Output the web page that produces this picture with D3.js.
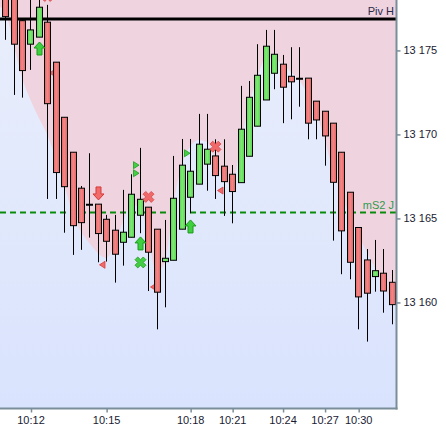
<!DOCTYPE html>
<html><head><meta charset="utf-8">
<script src="https://cdn.jsdelivr.net/npm/d3@7"></script>
<style>body{margin:0;background:#fff;} svg{display:block;font-family:"Liberation Sans",Arial,sans-serif;}</style>
</head><body><svg id="c" width="446" height="428"></svg>
<script>
// ---- data (candle index based, 20-second bars) ----
const opens  = [13178.6,13178.4,13176.77,13175.37,13175.79,13176.68,13174.30,13171.02,13168.94,13166.80,13165.82,13165.85,13164.95,13164.30,13163.58,13163.88,13165.19,13165.67,13164.36,13162.43,13162.51,13164.36,13166.26,13167.04,13168.23,13168.72,13168.11,13167.63,13167.13,13168.70,13170.49,13172.05,13173.64,13174.18,13173.46,13173.32,13173.35,13171.98,13171.38,13170.67,13168.94,13166.56,13164.46,13162.53,13161.54,13161.74,13161.20];
const highs  = [13179.0,13178.8,13176.90,13178.50,13178.40,13177.71,13174.30,13171.02,13168.94,13166.93,13168.88,13165.85,13165.21,13165.21,13166.70,13167.63,13169.20,13165.67,13164.36,13164.91,13168.72,13169.73,13169.73,13171.22,13171.22,13169.71,13169.71,13168.18,13172.89,13173.18,13175.37,13176.22,13176.22,13174.73,13175.19,13175.19,13173.35,13171.98,13171.38,13170.67,13168.94,13166.56,13164.46,13163.18,13163.72,13163.18,13161.93];
const lows   = [13175.63,13172.35,13172.19,13173.84,13175.79,13166.16,13166.16,13164.15,13162.83,13163.13,13163.86,13162.39,13162.43,13161.18,13162.19,13163.88,13164.12,13160.68,13158.40,13159.71,13162.51,13164.36,13165.31,13167.04,13166.65,13166.16,13165.15,13164.71,13167.13,13168.70,13170.49,13172.05,13172.69,13170.67,13170.90,13171.65,13169.71,13169.71,13168.14,13163.68,13161.68,13161.38,13158.40,13157.67,13160.64,13159.39,13158.70];
const closes = [13177.01,13175.37,13173.80,13176.22,13177.57,13171.83,13167.73,13166.89,13164.57,13164.75,13165.82,13164.10,13163.64,13162.87,13164.18,13166.44,13166.14,13162.99,13160.61,13162.63,13166.20,13168.17,13167.81,13169.42,13169.12,13167.55,13167.19,13166.60,13170.31,13172.21,13173.52,13175.25,13174.77,13172.81,13173.13,13173.32,13170.67,13170.86,13169.91,13167.15,13164.26,13162.39,13160.33,13160.55,13161.89,13160.68,13159.87];
// lower boundary of the shaded (pink) zone
const zoneLine = [13177.29,13175.33,13173.36,13172.05,13170.98,13169.97,13168.60,13166.99,13165.33,13164.20,13163.54,13162.95,13162.65,13163.42,13164.79,13165.80,13165.68,13163.84,13161.82,13162.41,13165.80,13168.18,13169.26,13169.67,13169.55,13168.48,13167.29,13166.99,13169.38,13171.76,13173.36,13174.55,13174.55,13174.14,13173.72,13173.24,13172.35,13171.34,13169.67,13167.89,13166.40,13165.21,13164.02,13163.01,13162.05,13161.04,13160.15];
const timeTickIdx = [3,12,22,27,33,38,42];
const timeTickLabels = ["10:12","10:15","10:18","10:21","10:24","10:27","10:30"];
const priceTicks = [13160,13165,13170,13175];
const pivH = 13176.875, ms2J = 13165.36;
// signal markers: [candle index, price]
const upArrows   = [[4,13175.5],[16,13163.90],[22,13164.91]];
const downArrows = [[11,13166.10]];
const redCrosses = [[5,13178.24],[17,13166.28],[25,13169.27]];
const greenCrosses = [[16,13162.38]];
const redLeftTri = [[6,13173.66],[12,13162.24],[18,13160.92],[26,13166.66]];
const greenRightTri = [[15,13168.17],[15,13167.69],[21,13168.88]];

// ---- layout ----
const W = 396.5, H = 408.5;
const svg = d3.select("#c");
const x = d3.scaleLinear().domain([-0.63, 46.56]).range([0, W]);
const y = d3.scaleLinear().domain([13153.7, 13178.0]).range([408.3, 0]);

const defs = svg.append("defs");
const bg = defs.append("linearGradient").attr("id","bg").attr("x1",0).attr("y1",0).attr("x2",0).attr("y2",1);
bg.append("stop").attr("offset","0%").attr("stop-color","#e9eefb");
bg.append("stop").attr("offset","100%").attr("stop-color","#d9e3fd");
const rg = defs.append("linearGradient").attr("id","rg");
rg.append("stop").attr("offset","0%").attr("stop-color","#e46262");
rg.append("stop").attr("offset","45%").attr("stop-color","#f28888");
rg.append("stop").attr("offset","100%").attr("stop-color","#e46464");
const gg = defs.append("linearGradient").attr("id","gg");
gg.append("stop").attr("offset","0%").attr("stop-color","#55d24c");
gg.append("stop").attr("offset","45%").attr("stop-color","#80ea76");
gg.append("stop").attr("offset","100%").attr("stop-color","#58d44f");
defs.append("clipPath").attr("id","clip").append("rect").attr("x",0).attr("y",0).attr("width",W).attr("height",H);

const plot = svg.append("g").attr("clip-path","url(#clip)");
plot.append("rect").attr("x",0).attr("y",0).attr("width",W).attr("height",H).attr("fill","url(#bg)");

// pink zone
const zonePts = zoneLine.map((v,i)=>[i,v]);
zonePts.unshift([-0.63, zoneLine[0]+0.3]);
zonePts.push([46.56, zoneLine[zoneLine.length-1]-0.2]);
const area = d3.area().x(d=>x(d[0])).y0(-5).y1(d=>y(d[1])).curve(d3.curveMonotoneX);
plot.append("path").datum(zonePts).attr("d",area).attr("fill","#efd4e0");

// level lines
plot.append("line").attr("x1",0).attr("x2",W).attr("y1",y(pivH)).attr("y2",y(pivH))
  .attr("stroke","#000").attr("stroke-width",3);
plot.append("line").attr("x1",0).attr("x2",W).attr("y1",y(ms2J)).attr("y2",y(ms2J))
  .attr("stroke","#0a8a0a").attr("stroke-width",2).attr("stroke-dasharray","6,4");
plot.append("text").attr("x",394).attr("y",y(pivH)-3.5).attr("text-anchor","end")
  .attr("font-size",11).attr("fill","#2a2a4a").text("Piv H");
plot.append("text").attr("x",394).attr("y",y(ms2J)-3.5).attr("text-anchor","end")
  .attr("font-size",11).attr("fill","#2f9a4a").text("mS2 J");

// triangles (drawn under candles)
const cx = i => Math.round(x(i)) + 0.5;
plot.selectAll(".tl").data(redLeftTri).join("path")
  .attr("d",d=>{const c=cx(d[0]), yy=y(d[1]); return `M${c-7},${yy} L${c-1.5},${yy-3.5} L${c-1.5},${yy+3.5} Z`;})
  .attr("fill","#f06a6a").attr("stroke","#d83c3c").attr("stroke-width",0.8);
plot.selectAll(".tr").data(greenRightTri).join("path")
  .attr("d",d=>{const c=cx(d[0]), yy=y(d[1]); return `M${c+7.5},${yy} L${c+2},${yy-3.5} L${c+2},${yy+3.5} Z`;})
  .attr("fill","#44d044").attr("stroke","#1f9a1f").attr("stroke-width",0.8);

// candles
const candles = plot.append("g");
d3.range(opens.length).forEach(i=>{
  const c = cx(i);
  const o=opens[i], h=highs[i], l=lows[i], cl=closes[i];
  candles.append("line").attr("x1",c).attr("x2",c).attr("y1",y(h)).attr("y2",y(l))
    .attr("stroke","#000").attr("stroke-width",1);
  if (Math.abs(o-cl) < 0.01) {
    candles.append("line").attr("x1",c-3.5).attr("x2",c+3.5).attr("y1",y(o)).attr("y2",y(o))
      .attr("stroke","#000").attr("stroke-width",2);
  } else {
    const top = y(Math.max(o,cl)), bot = y(Math.min(o,cl));
    candles.append("rect").attr("x",c-3).attr("width",6).attr("y",top).attr("height",Math.max(1,bot-top))
      .attr("fill", cl>o ? "url(#gg)" : "url(#rg)").attr("stroke","#000").attr("stroke-width",1);
  }
});

// arrows
const upPath = "M0,0 L5.5,6 L2.5,6 L2.5,13 L-2.5,13 L-2.5,6 L-5.5,6 Z";
plot.selectAll(".ua").data(upArrows).join("path")
  .attr("transform",d=>`translate(${cx(d[0])},${y(d[1])})`).attr("d",upPath)
  .attr("fill","#3fd03f").attr("stroke","#1c9a1c").attr("stroke-width",1);
plot.selectAll(".da").data(downArrows).join("path")
  .attr("transform",d=>`translate(${cx(d[0])},${y(d[1])}) scale(1,-1)`).attr("d",upPath)
  .attr("fill","#f26a6a").attr("stroke","#d43a3a").attr("stroke-width",1);
const crossSym = d3.symbol(d3.symbolCross, 75);
plot.selectAll(".rx").data(redCrosses).join("path")
  .attr("transform",d=>`translate(${cx(d[0])},${y(d[1])}) rotate(45)`).attr("d",crossSym)
  .attr("fill","#f06a6a").attr("stroke","#d84a4a").attr("stroke-width",0.8);
plot.selectAll(".gx").data(greenCrosses).join("path")
  .attr("transform",d=>`translate(${cx(d[0])},${y(d[1])}) rotate(45)`).attr("d",crossSym)
  .attr("fill","#44cc44").attr("stroke","#22a022").attr("stroke-width",0.8);

// axes
const axisCol = "#7a8e9a";
const xa = svg.append("g").attr("transform",`translate(0,${H})`)
  .call(d3.axisBottom(x).tickValues(timeTickIdx).tickFormat((d,i)=>timeTickLabels[i]).tickSize(4).tickPadding(4).tickSizeOuter(0));
const ya = svg.append("g").attr("transform",`translate(${W},0)`)
  .call(d3.axisRight(y).tickValues(priceTicks).tickFormat(d=>d3.format(",")(d).replace(","," ")).tickSize(4).tickPadding(3).tickSizeOuter(0));
[xa,ya].forEach(a=>{
  a.select(".domain").remove();
  a.selectAll(".tick line").attr("stroke",axisCol).attr("stroke-width",1.5);
  a.selectAll(".tick text").attr("font-size",11).attr("fill","#1a1a33").attr("font-family","'Liberation Sans',Arial,sans-serif");
});
xa.selectAll(".tick line").attr("transform","translate(0.5,0)");
svg.append("line").attr("x1",0).attr("x2",W+1).attr("y1",H).attr("y2",H).attr("stroke",axisCol).attr("stroke-width",2);
svg.append("line").attr("x1",W).attr("x2",W).attr("y1",0).attr("y2",H+1).attr("stroke",axisCol).attr("stroke-width",2);
</script></body></html>
